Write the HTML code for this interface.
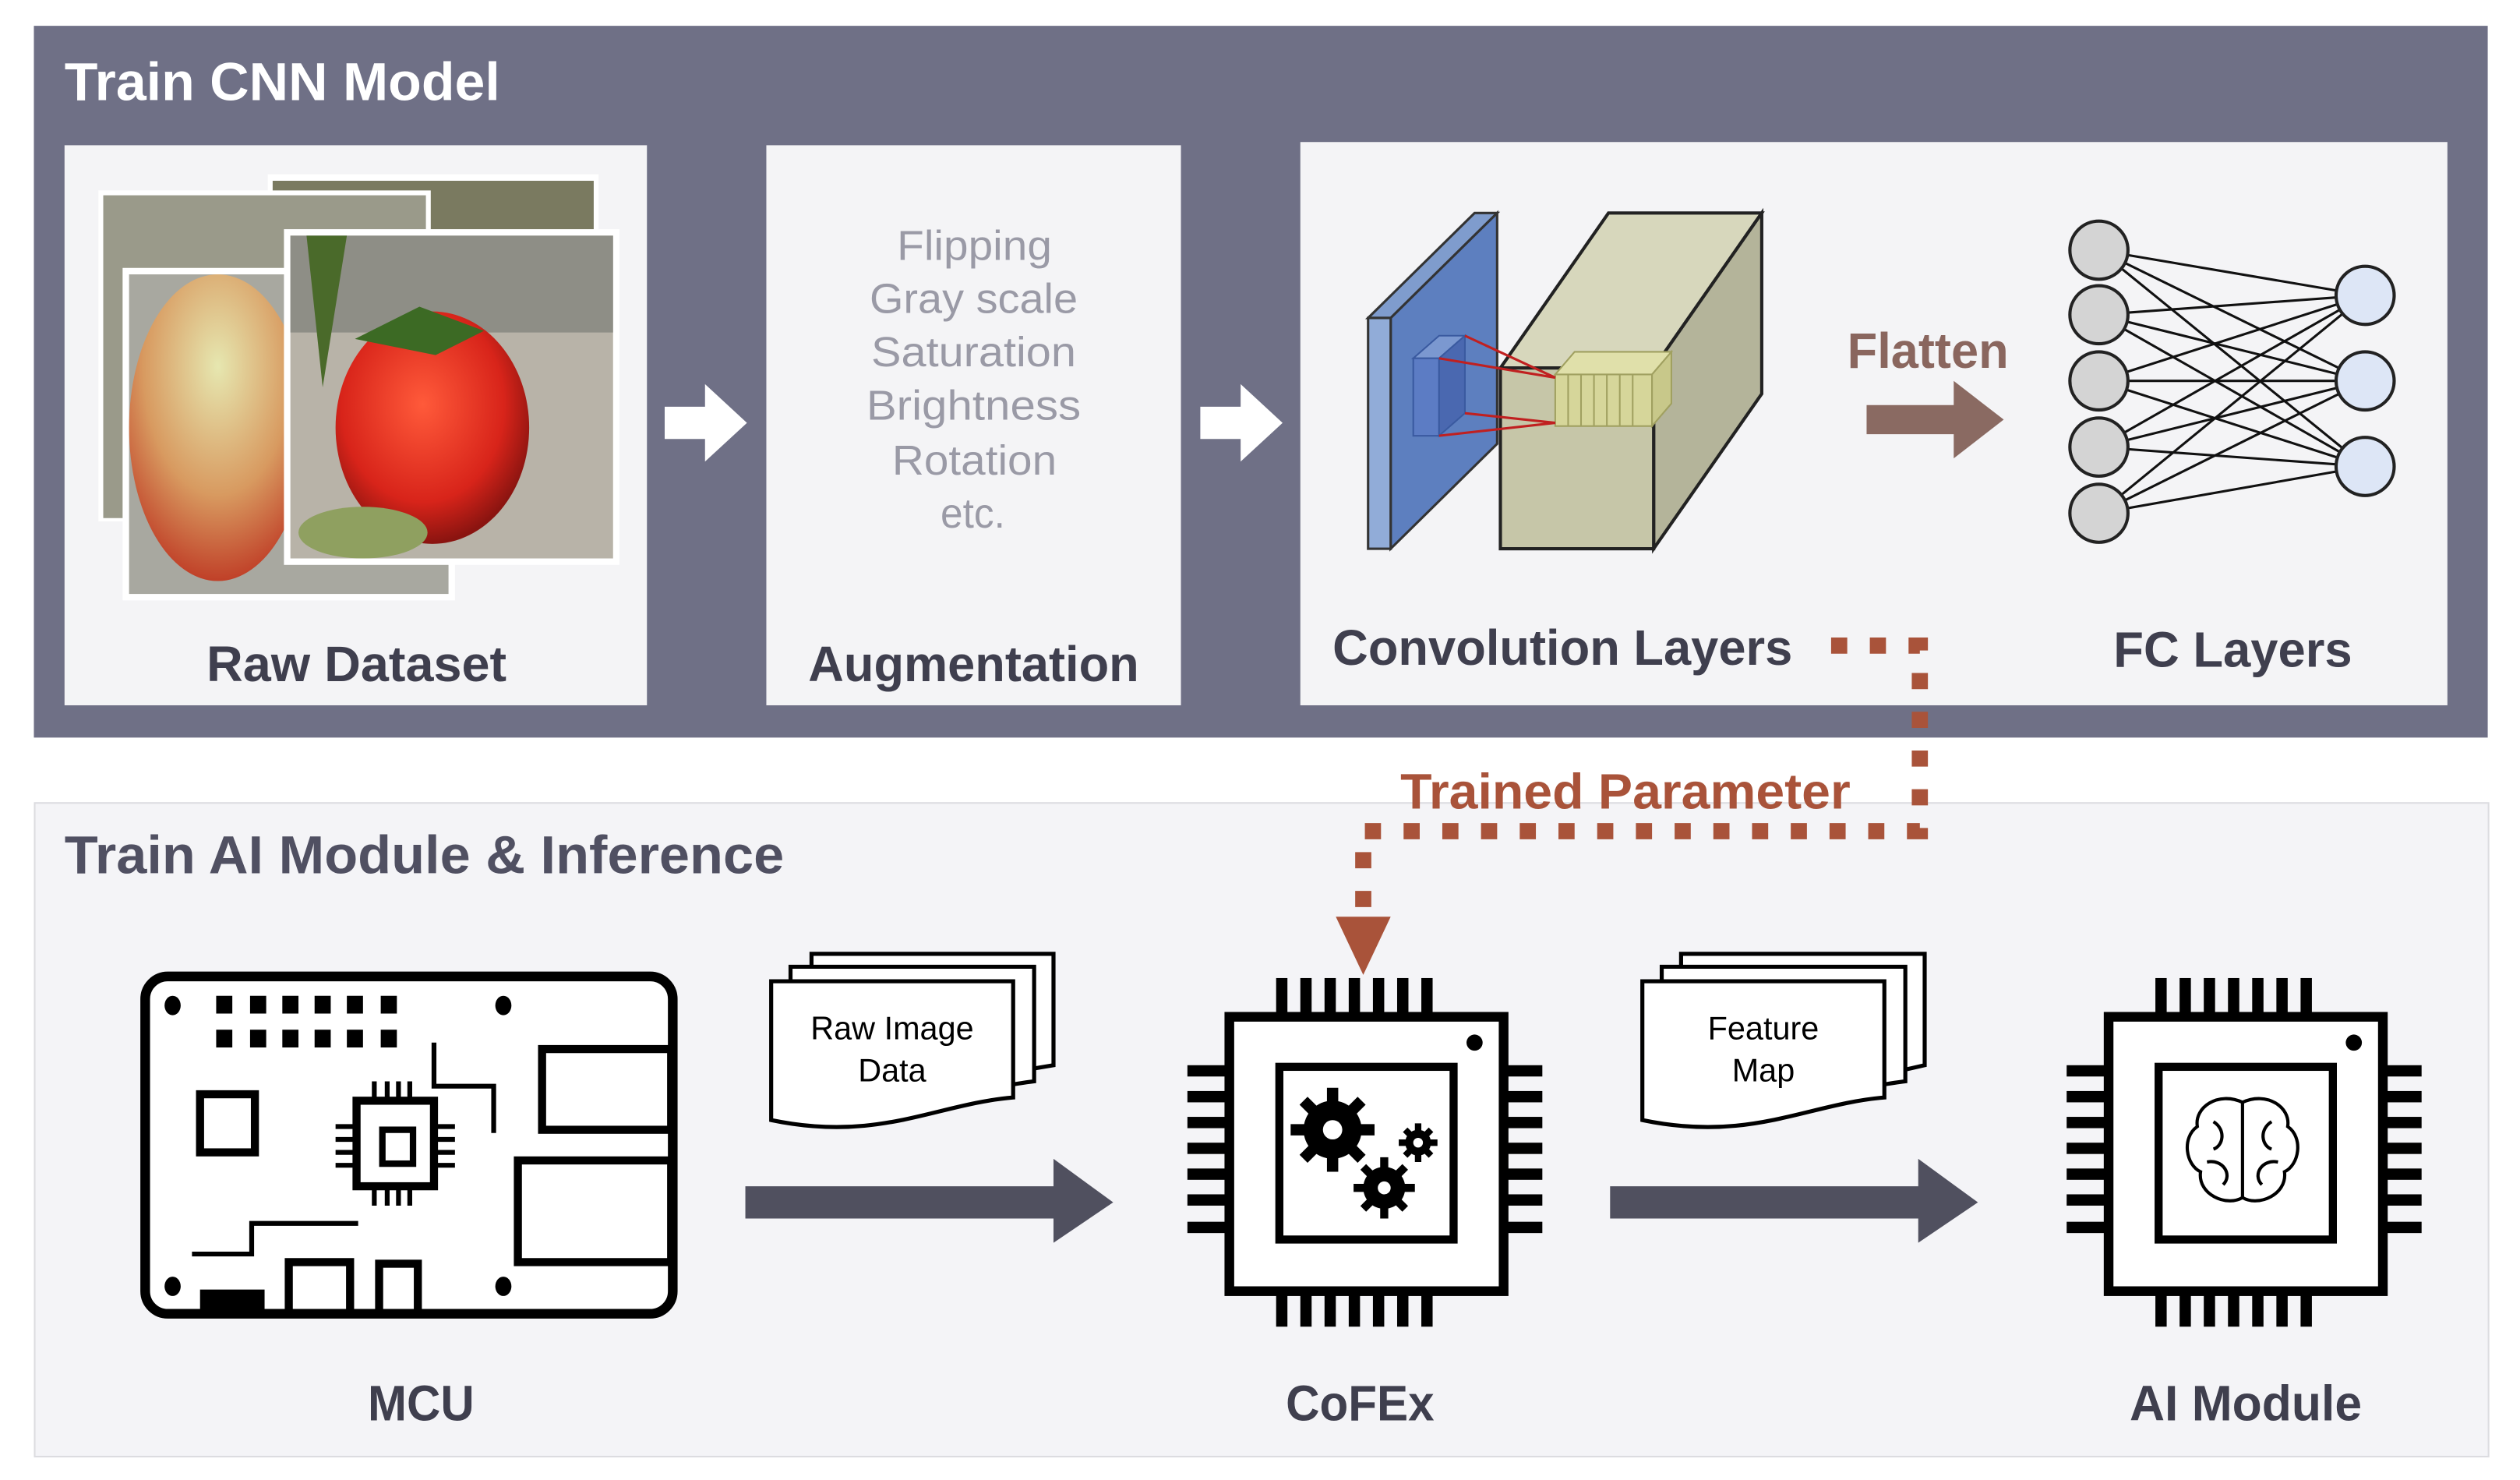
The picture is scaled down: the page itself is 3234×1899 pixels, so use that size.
<!DOCTYPE html>
<html><head><meta charset="utf-8"><style>
html,body{margin:0;padding:0;background:#fff;}
svg{display:block;}
text{font-family:"Liberation Sans",sans-serif;font-weight:bold;}
</style></head><body>
<svg width="3234" height="1899" viewBox="0 0 1562 917" preserveAspectRatio="none" xmlns="http://www.w3.org/2000/svg">
<defs>
<radialGradient id="berry" cx="0.45" cy="0.4" r="0.6"><stop offset="0" stop-color="#ff5a3a"/><stop offset="0.7" stop-color="#d8241a"/><stop offset="1" stop-color="#8a1410"/></radialGradient>
<radialGradient id="berry2" cx="0.5" cy="0.3" r="0.7"><stop offset="0" stop-color="#e6e7b0"/><stop offset="0.6" stop-color="#d89a60"/><stop offset="1" stop-color="#c04028"/></radialGradient>
</defs>
<rect x="0" y="0" width="1562" height="917" fill="#fff"/>
<rect x="21" y="16" width="1521" height="441" fill="#6f7086"/>
<text x="40" y="62" font-size="33" fill="#fff" textLength="270" lengthAdjust="spacingAndGlyphs">Train CNN Model</text>
<rect x="40" y="90" width="361" height="347" fill="#f4f4f6"/>
<rect x="475" y="90" width="257" height="347" fill="#f4f4f6"/>
<rect x="806" y="88" width="711" height="349" fill="#f4f4f6"/>
<!-- photos -->
<rect x="166" y="108" width="205" height="130" fill="#fff"/>
<rect x="169" y="112" width="199" height="124" fill="#7a7a60"/>
<rect x="61" y="118" width="206" height="205" fill="#fff"/>
<rect x="64" y="121" width="200" height="200" fill="#9a9a8a"/>
<rect x="76" y="166" width="206" height="206" fill="#fff"/>
<rect x="80" y="170" width="198" height="198" fill="#a8a8a0"/>
<ellipse cx="135" cy="265" rx="55" ry="95" fill="url(#berry2)"/>
<rect x="176" y="142" width="208" height="208" fill="#fff"/>
<rect x="180" y="146" width="200" height="200" fill="#b8b3a8"/>
<rect x="180" y="146" width="200" height="60" fill="#8e8e86"/>
<path d="M190 146 L200 240 L215 146Z" fill="#4a6a2a"/>
<ellipse cx="268" cy="265" rx="60" ry="72" fill="url(#berry)"/>
<path d="M220 210 L260 190 L300 205 L270 220Z" fill="#3c6a24"/>
<ellipse cx="225" cy="330" rx="40" ry="16" fill="#8fa060"/>
<text x="128" y="422" font-size="31" fill="#3f3f4e" textLength="186" lengthAdjust="spacingAndGlyphs">Raw Dataset</text>
<path d="M412 252 H437 V238 L463 262 L437 286 V272 H412Z" fill="#fff"/>
<path d="M744 252 H769 V238 L795 262 L769 286 V272 H744Z" fill="#fff"/>
<g font-size="26" fill="#9a9aa6">
<text x="556" y="161" style="font-weight:normal" textLength="96" lengthAdjust="spacingAndGlyphs">Flipping</text>
<text x="539" y="194" style="font-weight:normal" textLength="129" lengthAdjust="spacingAndGlyphs">Gray scale</text>
<text x="540" y="227" style="font-weight:normal" textLength="127" lengthAdjust="spacingAndGlyphs">Saturation</text>
<text x="537" y="260" style="font-weight:normal" textLength="133" lengthAdjust="spacingAndGlyphs">Brightness</text>
<text x="553" y="294" style="font-weight:normal" textLength="102" lengthAdjust="spacingAndGlyphs">Rotation</text>
<text x="583" y="327" style="font-weight:normal" textLength="40" lengthAdjust="spacingAndGlyphs">etc.</text>
</g>
<text x="501" y="422" font-size="31" fill="#3f3f4e" textLength="205" lengthAdjust="spacingAndGlyphs">Augmentation</text>
<!-- conv -->
<polygon points="848,197 862,197 928,132 914,132" fill="#7f9ccd" stroke="#333" stroke-width="1.5"/>
<polygon points="862,197 928,132 928,275 862,340" fill="#5d7fbf" stroke="#333" stroke-width="1.5"/>
<rect x="848" y="197" width="14" height="143" fill="#91acd8" stroke="#333" stroke-width="1.5"/>
<polygon points="930,228 1025,228 1092,132 997,132" fill="#d7d7bc" stroke="#222" stroke-width="2"/>
<polygon points="1025,228 1092,132 1092,244 1025,340" fill="#b4b49a" stroke="#222" stroke-width="2"/>
<rect x="930" y="228" width="95" height="112" fill="#c6c6a8" stroke="#222" stroke-width="2"/>
<polygon points="876,222 892,222 908,208 892,208" fill="#7b98d0" stroke="#3a5aa0"/>
<rect x="876" y="222" width="16" height="48" fill="#5c7cc4" stroke="#3a5aa0"/>
<polygon points="892,222 908,208 908,256 892,270" fill="#4a68b0" stroke="#3a5aa0"/>
<rect x="964" y="232" width="60" height="32" fill="#d6d69a" stroke="#a0a060"/>
<polygon points="964,232 1024,232 1036,218 976,218" fill="#e0e0aa" stroke="#a0a060"/>
<polygon points="1024,232 1036,218 1036,250 1024,264" fill="#c8c88a" stroke="#a0a060"/>
<g stroke="#a0a060" stroke-width="1"><line x1="972" y1="232" x2="972" y2="264"/><line x1="980" y1="232" x2="980" y2="264"/><line x1="988" y1="232" x2="988" y2="264"/><line x1="996" y1="232" x2="996" y2="264"/><line x1="1004" y1="232" x2="1004" y2="264"/><line x1="1012" y1="232" x2="1012" y2="264"/></g>
<g stroke="#c02020" stroke-width="1.5"><line x1="892" y1="222" x2="964" y2="234"/><line x1="908" y1="208" x2="964" y2="234"/><line x1="892" y1="270" x2="964" y2="262"/><line x1="908" y1="256" x2="964" y2="262"/></g>
<text x="1145" y="228" font-size="31" fill="#8a665e" textLength="100" lengthAdjust="spacingAndGlyphs">Flatten</text>
<path d="M1157 251 H1211 V236 L1242 260 L1211 284 V269 H1157Z" fill="#8a6a62"/>
<g stroke="#111" stroke-width="1.5">
<line x1="1301" y1="155" x2="1466" y2="183"/><line x1="1301" y1="155" x2="1466" y2="236"/><line x1="1301" y1="155" x2="1466" y2="289"/>
<line x1="1301" y1="195" x2="1466" y2="183"/><line x1="1301" y1="195" x2="1466" y2="236"/><line x1="1301" y1="195" x2="1466" y2="289"/>
<line x1="1301" y1="236" x2="1466" y2="183"/><line x1="1301" y1="236" x2="1466" y2="236"/><line x1="1301" y1="236" x2="1466" y2="289"/>
<line x1="1301" y1="277" x2="1466" y2="183"/><line x1="1301" y1="277" x2="1466" y2="236"/><line x1="1301" y1="277" x2="1466" y2="289"/>
<line x1="1301" y1="318" x2="1466" y2="183"/><line x1="1301" y1="318" x2="1466" y2="236"/><line x1="1301" y1="318" x2="1466" y2="289"/>
</g>
<g stroke="#222" stroke-width="2" fill="#d4d4d4">
<ellipse cx="1301" cy="155" rx="18" ry="18"/><ellipse cx="1301" cy="195" rx="18" ry="18"/><ellipse cx="1301" cy="236" rx="18" ry="18"/><ellipse cx="1301" cy="277" rx="18" ry="18"/><ellipse cx="1301" cy="318" rx="18" ry="18"/>
</g>
<g stroke="#222" stroke-width="2" fill="#dde6f6">
<ellipse cx="1466" cy="183" rx="18" ry="18"/><ellipse cx="1466" cy="236" rx="18" ry="18"/><ellipse cx="1466" cy="289" rx="18" ry="18"/>
</g>
<text x="826" y="412" font-size="31" fill="#3f3f4e" textLength="285" lengthAdjust="spacingAndGlyphs">Convolution Layers</text>
<text x="1310" y="413" font-size="31" fill="#3f3f4e" textLength="148" lengthAdjust="spacingAndGlyphs">FC Layers</text>
<!-- bottom panel -->
<rect x="21.5" y="497.5" width="1521" height="405" fill="#f4f4f7" stroke="#dcdce0" stroke-width="1"/>
<text x="40" y="541" font-size="33" fill="#505062" textLength="446" lengthAdjust="spacingAndGlyphs">Train AI Module &amp; Inference</text>
<path d="M1135 400 H1190 V515 H845 V570" fill="none" stroke="#a9533a" stroke-width="10" stroke-dasharray="10 14"/>
<polygon points="828,568 862,568 845,604" fill="#a9533a"/>
<text x="868" y="501" font-size="31" fill="#a9533a" textLength="279" lengthAdjust="spacingAndGlyphs">Trained Parameter</text>
<!-- MCU -->
<rect x="90" y="605" width="327" height="209" rx="14" fill="#fff" stroke="#000" stroke-width="6"/>
<g fill="#000">
<ellipse cx="107" cy="623" rx="5" ry="6"/><ellipse cx="312" cy="623" rx="5" ry="6"/><ellipse cx="107" cy="797" rx="5" ry="6"/><ellipse cx="312" cy="797" rx="5" ry="6"/>
<rect x="134" y="617" width="10" height="11"/><rect x="155" y="617" width="10" height="11"/><rect x="175" y="617" width="10" height="11"/><rect x="195" y="617" width="10" height="11"/><rect x="215" y="617" width="10" height="11"/><rect x="236" y="617" width="10" height="11"/>
<rect x="134" y="638" width="10" height="11"/><rect x="155" y="638" width="10" height="11"/><rect x="175" y="638" width="10" height="11"/><rect x="195" y="638" width="10" height="11"/><rect x="215" y="638" width="10" height="11"/><rect x="236" y="638" width="10" height="11"/>
<rect x="124" y="799" width="40" height="17"/>
</g>
<g fill="none" stroke="#000" stroke-width="5">
<rect x="124" y="678" width="34" height="36"/>
<rect x="336" y="650" width="80" height="50"/>
<rect x="321" y="719" width="95" height="63"/>
<rect x="179" y="782" width="38" height="32"/>
<rect x="235" y="783" width="24" height="31"/>
<rect x="221" y="682" width="48" height="53"/>
<rect x="237" y="700" width="19" height="21" stroke-width="4"/>
</g>
<g fill="none" stroke="#000" stroke-width="3">
<path d="M269 646 V673 H306 V702"/>
<path d="M119 777 H156 V758 H222"/>
<path d="M232 682 V670 M240 682 V670 M247 682 V670 M254 682 V670 M232 735 V747 M240 735 V747 M247 735 V747 M254 735 V747 M221 698 H208 M221 706 H208 M221 714 H208 M221 722 H208 M269 698 H282 M269 706 H282 M269 714 H282 M269 722 H282"/>
</g>
<text x="228" y="880" font-size="31" fill="#3f3f4e" textLength="66" lengthAdjust="spacingAndGlyphs">MCU</text>
<g fill="#fff" stroke="#000" stroke-width="2.5">
<path d="M503 591 H653 V660 L641 662 C600 670 560 680 503 666Z"/>
<path d="M490 599 H641 V670 C600 675 560 690 490 676Z"/>
<path d="M478 608 H628 V680 C580 684 545 708 478 694Z"/>
<path d="M1042 591 H1193 V660 C1150 670 1100 680 1042 666Z"/>
<path d="M1030 599 H1181 V670 C1140 675 1100 690 1030 676Z"/>
<path d="M1018 608 H1168 V680 C1120 684 1085 708 1018 694Z"/>
</g>
<text x="553" y="644" font-size="20" fill="#000" text-anchor="middle" style="font-weight:normal">Raw Image</text>
<text x="553" y="670" font-size="20" fill="#000" text-anchor="middle" style="font-weight:normal">Data</text>
<text x="1093" y="644" font-size="20" fill="#000" text-anchor="middle" style="font-weight:normal">Feature</text>
<text x="1093" y="670" font-size="20" fill="#000" text-anchor="middle" style="font-weight:normal">Map</text>
<path d="M462 735 H653 V718 L690 745 L653 770 V755 H462Z" fill="#50505f"/>
<path d="M998 735 H1189 V718 L1226 745 L1189 770 V755 H998Z" fill="#50505f"/>
<g id="chip1">
<g fill="#000">
<rect x="791" y="606" width="7" height="24"/><rect x="806" y="606" width="7" height="24"/><rect x="821" y="606" width="7" height="24"/><rect x="836" y="606" width="7" height="24"/><rect x="851" y="606" width="7" height="24"/><rect x="866" y="606" width="7" height="24"/><rect x="881" y="606" width="7" height="24"/>
<rect x="791" y="798" width="7" height="24"/><rect x="806" y="798" width="7" height="24"/><rect x="821" y="798" width="7" height="24"/><rect x="836" y="798" width="7" height="24"/><rect x="851" y="798" width="7" height="24"/><rect x="866" y="798" width="7" height="24"/><rect x="881" y="798" width="7" height="24"/>
<rect x="736" y="660" width="26" height="7"/><rect x="736" y="676" width="26" height="7"/><rect x="736" y="692" width="26" height="7"/><rect x="736" y="708" width="26" height="7"/><rect x="736" y="724" width="26" height="7"/><rect x="736" y="740" width="26" height="7"/><rect x="736" y="757" width="26" height="7"/>
<rect x="930" y="660" width="26" height="7"/><rect x="930" y="676" width="26" height="7"/><rect x="930" y="692" width="26" height="7"/><rect x="930" y="708" width="26" height="7"/><rect x="930" y="724" width="26" height="7"/><rect x="930" y="740" width="26" height="7"/><rect x="930" y="757" width="26" height="7"/>
</g>
<rect x="762" y="630" width="170" height="170" fill="#fff" stroke="#000" stroke-width="6"/>
<rect x="793" y="661" width="108" height="107" fill="#fff" stroke="#000" stroke-width="5"/>
<circle cx="914" cy="646" r="5" fill="#000"/>
</g>
<g fill="#000">
<circle cx="826" cy="700" r="18"/>
<g stroke="#000" stroke-width="7"><line x1="826" y1="674" x2="826" y2="726"/><line x1="800" y1="700" x2="852" y2="700"/><line x1="808" y1="682" x2="844" y2="718"/><line x1="844" y1="682" x2="808" y2="718"/></g>
<circle cx="858" cy="736" r="13"/>
<g stroke="#000" stroke-width="5"><line x1="858" y1="717" x2="858" y2="755"/><line x1="839" y1="736" x2="877" y2="736"/><line x1="845" y1="723" x2="871" y2="749"/><line x1="871" y1="723" x2="845" y2="749"/></g>
<circle cx="879" cy="708" r="8"/>
<g stroke="#000" stroke-width="4"><line x1="879" y1="696" x2="879" y2="720"/><line x1="867" y1="708" x2="891" y2="708"/><line x1="871" y1="700" x2="887" y2="716"/><line x1="887" y1="700" x2="871" y2="716"/></g>
</g>
<g fill="#fff"><circle cx="826" cy="700" r="6"/><circle cx="858" cy="736" r="4"/><circle cx="879" cy="708" r="3"/></g>
<text x="797" y="880" font-size="31" fill="#3f3f4e" textLength="92" lengthAdjust="spacingAndGlyphs">CoFEx</text>
<use href="#chip1" transform="translate(545,0)"/>
<g fill="none" stroke="#000" stroke-width="2">
<path d="M1390 683 C1375 676 1360 686 1362 698 C1352 705 1355 722 1364 726 C1362 740 1380 748 1390 742 C1400 748 1418 740 1416 726 C1425 722 1428 705 1418 698 C1420 686 1405 676 1390 683Z"/>
<path d="M1390 683 V742 M1372 695 C1380 700 1378 710 1372 712 M1368 720 C1378 718 1384 728 1378 734 M1408 695 C1400 700 1402 710 1408 712 M1412 720 C1402 718 1396 728 1402 734"/>
</g>
<text x="1320" y="880" font-size="31" fill="#3f3f4e" textLength="144" lengthAdjust="spacingAndGlyphs">AI Module</text>
</svg>
</body></html>
